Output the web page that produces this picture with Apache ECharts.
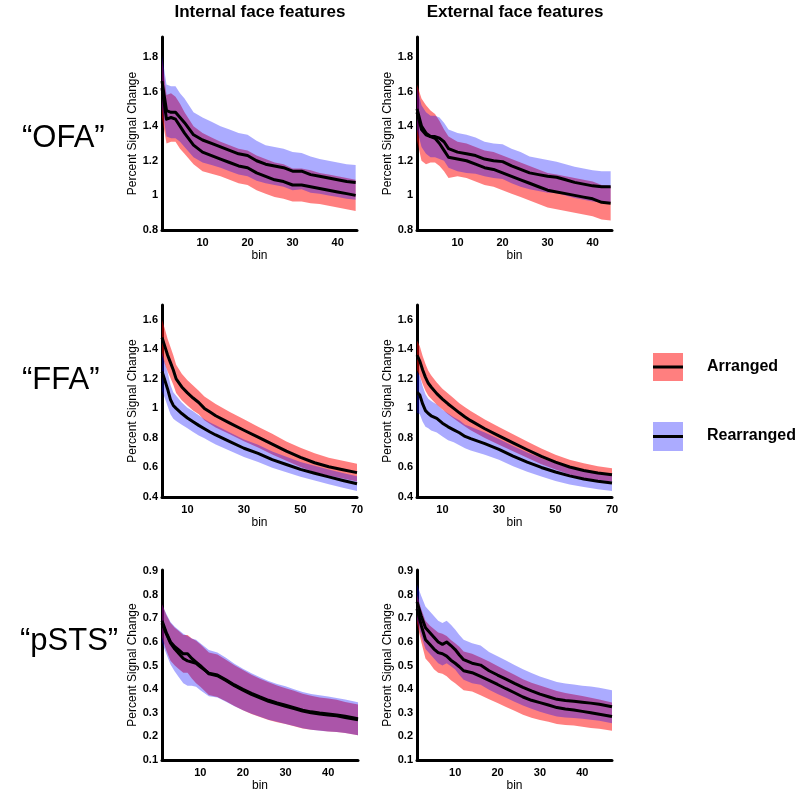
<!DOCTYPE html>
<html>
<head>
<meta charset="utf-8">
<script src="https://cdn.jsdelivr.net/npm/echarts@6/dist/echarts.min.js"></script>
<style>html,body{margin:0;padding:0;background:#fff}#c{width:800px;height:793px}</style>
</head>
<body>
<div id="c"></div>
<script>
// ---------- Data ----------
const columnTitles = ['Internal face features', 'External face features'];
const rowTitles = ['\u201COFA\u201D', '\u201CFFA\u201D', '\u201CpSTS\u201D'];
const legendNames = ['Arranged', 'Rearranged'];
const xName = 'bin';
const yName = 'Percent Signal Change';

// OFA, internal
const binsOfaInt = [1,2,3,4,5,6,8,10,12,14,16,18,20,22,24,26,28,30,32,34,36,38,40,42,44];
const ofaIntArrMean = [1.62,1.44,1.45,1.44,1.40,1.36,1.29,1.25,1.23,1.21,1.19,1.17,1.16,1.13,1.11,1.09,1.08,1.06,1.06,1.05,1.04,1.03,1.02,1.01,1.00];
const ofaIntArrErr  = [0.17,0.14,0.14,0.13,0.13,0.12,0.11,0.11,0.105,0.10,0.10,0.10,0.10,0.10,0.10,0.10,0.10,0.095,0.095,0.095,0.09,0.09,0.09,0.09,0.09];
const ofaIntRearMean = [1.66,1.49,1.48,1.48,1.45,1.42,1.35,1.32,1.30,1.28,1.26,1.24,1.23,1.20,1.18,1.17,1.16,1.14,1.14,1.12,1.11,1.10,1.09,1.08,1.075];
const ofaIntRearErr  = [0.15,0.15,0.15,0.15,0.14,0.14,0.13,0.13,0.125,0.12,0.12,0.12,0.12,0.115,0.11,0.11,0.11,0.11,0.105,0.105,0.10,0.10,0.10,0.10,0.10];

// OFA, external
const binsOfaExt = [1,2,3,4,5,6,7,8,10,12,14,16,18,20,22,24,26,28,30,32,34,36,38,40,42,44];
const ofaExtArrMean = [1.48,1.38,1.35,1.34,1.33,1.30,1.26,1.22,1.21,1.20,1.18,1.16,1.15,1.13,1.11,1.09,1.07,1.05,1.03,1.02,1.01,1.00,0.99,0.98,0.96,0.955];
const ofaExtArrErr  = [0.16,0.18,0.17,0.15,0.14,0.13,0.12,0.12,0.10,0.10,0.10,0.10,0.10,0.10,0.10,0.10,0.10,0.10,0.10,0.10,0.10,0.10,0.10,0.10,0.10,0.10];
const ofaExtRearMean = [1.50,1.40,1.36,1.34,1.34,1.33,1.31,1.27,1.25,1.24,1.23,1.21,1.20,1.195,1.17,1.15,1.13,1.12,1.11,1.105,1.09,1.075,1.065,1.055,1.05,1.05];
const ofaExtRearErr  = [0.12,0.12,0.12,0.12,0.12,0.12,0.11,0.11,0.11,0.11,0.105,0.10,0.10,0.10,0.10,0.10,0.095,0.095,0.095,0.09,0.09,0.09,0.09,0.09,0.09,0.09];

// FFA, internal
const binsFfa = [1,2,3,4,5,6,8,10,12,14,16,18,20,25,30,35,40,45,50,55,60,65,70];
const ffaIntArrMean = [1.48,1.42,1.36,1.31,1.26,1.20,1.145,1.105,1.07,1.04,1.00,0.975,0.95,0.90,0.852,0.805,0.758,0.71,0.668,0.632,0.605,0.585,0.565];
const ffaIntArrErr  = [0.12,0.12,0.11,0.105,0.10,0.095,0.09,0.085,0.085,0.08,0.08,0.08,0.08,0.075,0.075,0.07,0.07,0.065,0.065,0.065,0.06,0.06,0.06];
const ffaIntRearMean = [1.25,1.19,1.13,1.06,1.02,1.00,0.965,0.935,0.91,0.885,0.862,0.84,0.82,0.775,0.73,0.695,0.653,0.62,0.587,0.561,0.536,0.512,0.49];
const ffaIntRearErr  = [0.13,0.12,0.115,0.10,0.09,0.085,0.075,0.07,0.07,0.068,0.065,0.065,0.065,0.062,0.06,0.058,0.055,0.053,0.05,0.05,0.05,0.05,0.05];

// FFA, external
const ffaExtArrMean = [1.36,1.32,1.26,1.21,1.17,1.145,1.10,1.063,1.03,1.00,0.97,0.942,0.917,0.862,0.814,0.767,0.72,0.675,0.636,0.603,0.579,0.562,0.55];
const ffaExtArrErr  = [0.10,0.10,0.095,0.09,0.085,0.08,0.075,0.07,0.07,0.068,0.065,0.065,0.065,0.062,0.06,0.058,0.055,0.053,0.05,0.05,0.05,0.047,0.045];
const ffaExtRearMean = [1.11,1.09,1.03,0.985,0.965,0.95,0.932,0.90,0.875,0.855,0.835,0.81,0.795,0.761,0.723,0.677,0.636,0.60,0.569,0.543,0.522,0.507,0.495];
const ffaExtRearErr  = [0.14,0.13,0.12,0.11,0.10,0.10,0.095,0.09,0.09,0.085,0.085,0.08,0.08,0.075,0.07,0.068,0.065,0.062,0.06,0.058,0.055,0.055,0.055];

// pSTS, internal
const binsPstsInt = [1,2,3,4,5,6,7,8,9,10,12,14,16,18,20,22,24,26,28,30,32,34,36,38,40,42,44,47];
const pstsIntArrMean = [0.69,0.64,0.60,0.58,0.565,0.55,0.55,0.53,0.515,0.50,0.465,0.457,0.437,0.415,0.396,0.378,0.363,0.349,0.338,0.328,0.318,0.307,0.30,0.295,0.291,0.287,0.28,0.27];
const pstsIntArrErr  = [0.07,0.075,0.08,0.08,0.08,0.08,0.08,0.085,0.09,0.09,0.09,0.09,0.088,0.086,0.085,0.083,0.081,0.08,0.078,0.076,0.075,0.074,0.072,0.07,0.07,0.068,0.066,0.065];
const pstsIntRearMean = [0.68,0.635,0.595,0.57,0.55,0.53,0.52,0.515,0.51,0.495,0.468,0.46,0.44,0.418,0.399,0.382,0.367,0.353,0.342,0.332,0.322,0.311,0.304,0.299,0.295,0.291,0.285,0.275];
const pstsIntRearErr  = [0.08,0.085,0.09,0.095,0.10,0.105,0.105,0.10,0.10,0.10,0.098,0.095,0.093,0.09,0.088,0.086,0.084,0.082,0.08,0.08,0.078,0.077,0.076,0.075,0.074,0.072,0.071,0.07];

// pSTS, external
const binsPstsExt = [1,2,3,4,5,6,7,8,9,10,11,12,14,16,18,20,22,24,26,28,30,32,34,36,38,40,42,44,47];
const pstsExtArrMean = [0.74,0.67,0.61,0.59,0.57,0.555,0.55,0.54,0.523,0.51,0.495,0.478,0.47,0.454,0.437,0.42,0.402,0.385,0.367,0.353,0.343,0.333,0.322,0.316,0.312,0.306,0.30,0.294,0.284];
const pstsExtArrErr  = [0.06,0.07,0.08,0.08,0.085,0.085,0.085,0.085,0.085,0.085,0.085,0.082,0.08,0.08,0.08,0.078,0.077,0.076,0.075,0.074,0.073,0.071,0.07,0.068,0.066,0.065,0.064,0.062,0.06];
const pstsExtRearMean = [0.77,0.71,0.66,0.64,0.62,0.60,0.59,0.60,0.585,0.568,0.545,0.525,0.51,0.502,0.478,0.46,0.443,0.425,0.408,0.393,0.379,0.368,0.357,0.352,0.349,0.345,0.341,0.336,0.326];
const pstsExtRearErr  = [0.075,0.085,0.09,0.09,0.09,0.09,0.09,0.09,0.088,0.085,0.085,0.085,0.085,0.083,0.08,0.08,0.079,0.078,0.077,0.076,0.075,0.074,0.073,0.072,0.071,0.07,0.07,0.07,0.07];

// Axis tick labels
const xTicksOfa = [10,20,30,40];
const xTicksFfa = [10,30,50,70];
const xTicksPsts = [10,20,30,40];
const yTicksOfa = [0.8,1,1.2,1.4,1.6,1.8];
const yTicksFfa = [0.4,0.6,0.8,1,1.2,1.4,1.6];
const yTicksPsts = [0.1,0.2,0.3,0.4,0.5,0.6,0.7,0.8,0.9];

// ---------- Chart ----------
const FONT = "'Liberation Sans', Arial, Helvetica, sans-serif";
const RED = 'rgba(255,0,0,0.5)';
const BLUE = 'rgba(0,0,255,0.33)';

const panels = [
  {bins: binsOfaInt, a: [ofaIntArrMean, ofaIntArrErr], r: [ofaIntRearMean, ofaIntRearErr], xMax: 44.3, xTicks: xTicksOfa, yMin: 0.8, yMax: 1.915, yTicks: yTicksOfa, rect: [162, 37, 195, 193]},
  {bins: binsOfaExt, a: [ofaExtArrMean, ofaExtArrErr], r: [ofaExtRearMean, ofaExtRearErr], xMax: 44.3, xTicks: xTicksOfa, yMin: 0.8, yMax: 1.915, yTicks: yTicksOfa, rect: [417, 37, 195, 193]},
  {bins: binsFfa, a: [ffaIntArrMean, ffaIntArrErr], r: [ffaIntRearMean, ffaIntRearErr], xMax: 70, xTicks: xTicksFfa, yMin: 0.4, yMax: 1.7, yTicks: yTicksFfa, rect: [162, 305, 195, 192]},
  {bins: binsFfa, a: [ffaExtArrMean, ffaExtArrErr], r: [ffaExtRearMean, ffaExtRearErr], xMax: 70, xTicks: xTicksFfa, yMin: 0.4, yMax: 1.7, yTicks: yTicksFfa, rect: [417, 305, 195, 192]},
  {bins: binsPstsInt, a: [pstsIntArrMean, pstsIntArrErr], r: [pstsIntRearMean, pstsIntRearErr], xMax: 47, xTicks: xTicksPsts, yMin: 0.1, yMax: 0.905, yTicks: yTicksPsts, rect: [162, 570, 196, 194]},
  {bins: binsPstsExt, a: [pstsExtArrMean, pstsExtArrErr], r: [pstsExtRearMean, pstsExtRearErr], xMax: 47, xTicks: xTicksPsts, yMin: 0.1, yMax: 0.905, yTicks: yTicksPsts, rect: [417, 570, 195, 194]}
];

const grids = [], xAxes = [], yAxes = [], series = [];

// Band (mean ± err) drawn as one polygon through the axis scales (api.coord)
function band(gi, bins, mean, err, color, z) {
  const rows = bins.map((b, i) => [b, mean[i] - err[i], mean[i] + err[i]]);
  return {
    type: 'custom', xAxisIndex: gi, yAxisIndex: gi, silent: true, z: z,
    data: rows, encode: {x: 0, y: [1, 2]},
    renderItem: function (params, api) {
      if (params.dataIndex !== 0) return null;
      const upper = rows.map(r => api.coord([r[0], r[2]]));
      const lower = rows.map(r => api.coord([r[0], r[1]])).reverse();
      return {type: 'polygon', shape: {points: upper.concat(lower)}, style: {fill: color, stroke: null}};
    }
  };
}
function meanLine(gi, bins, mean) {
  return {type: 'line', xAxisIndex: gi, yAxisIndex: gi, symbol: 'none', silent: true, z: 5,
    lineStyle: {color: '#000', width: 3, join: 'round'}, data: bins.map((b, i) => [b, mean[i]])};
}

panels.forEach((p, gi) => {
  grids.push({left: p.rect[0], top: p.rect[1], width: p.rect[2], height: p.rect[3], containLabel: false});
  xAxes.push({
    gridIndex: gi, type: 'value', min: 1, max: p.xMax,
    axisLine: {show: true, onZero: false, lineStyle: {color: '#000', width: 3}},
    axisTick: {show: false}, splitLine: {show: false},
    axisLabel: {customValues: p.xTicks, color: '#000', fontSize: 11, fontWeight: 'bold', fontFamily: FONT, margin: 7},
    name: xName, nameLocation: 'middle', nameGap: 20,
    nameTextStyle: {color: '#000', fontSize: 12, fontFamily: FONT}
  });
  yAxes.push({
    gridIndex: gi, type: 'value', min: p.yMin, max: p.yMax,
    axisLine: {show: true, onZero: false, lineStyle: {color: '#000', width: 3}},
    axisTick: {show: false}, splitLine: {show: false},
    axisLabel: {customValues: p.yTicks, color: '#000', fontSize: 11, fontWeight: 'bold', fontFamily: FONT, margin: 4},
    name: yName, nameLocation: 'middle', nameGap: 19, nameRotate: 90,
    nameTextStyle: {color: '#000', fontSize: 12, fontFamily: FONT}
  });
  series.push(band(gi, p.bins, p.a[0], p.a[1], RED, 1));
  series.push(band(gi, p.bins, p.r[0], p.r[1], BLUE, 2));
  series.push(meanLine(gi, p.bins, p.a[0]));
  series.push(meanLine(gi, p.bins, p.r[0]));
});

const graphic = [
  {type: 'text', x: 260, y: 12, style: {text: columnTitles[0], font: 'bold 17px ' + FONT, fill: '#000', align: 'center', verticalAlign: 'middle'}},
  {type: 'text', x: 515, y: 12, style: {text: columnTitles[1], font: 'bold 17px ' + FONT, fill: '#000', align: 'center', verticalAlign: 'middle'}},
  {type: 'text', x: 22, y: 138, style: {text: rowTitles[0], font: '31px ' + FONT, fill: '#000', align: 'left', verticalAlign: 'middle'}},
  {type: 'text', x: 22, y: 380, style: {text: rowTitles[1], font: '31px ' + FONT, fill: '#000', align: 'left', verticalAlign: 'middle'}},
  {type: 'text', x: 20, y: 641, style: {text: rowTitles[2], font: '31px ' + FONT, fill: '#000', align: 'left', verticalAlign: 'middle'}},
  {type: 'rect', shape: {x: 653, y: 353, width: 30, height: 28}, style: {fill: RED}},
  {type: 'line', shape: {x1: 653, y1: 367, x2: 683, y2: 367}, style: {stroke: '#000', lineWidth: 3}},
  {type: 'text', x: 707, y: 367, style: {text: legendNames[0], font: 'bold 16px ' + FONT, fill: '#000', verticalAlign: 'middle'}},
  {type: 'rect', shape: {x: 653, y: 422, width: 30, height: 29}, style: {fill: BLUE}},
  {type: 'line', shape: {x1: 653, y1: 436.5, x2: 683, y2: 436.5}, style: {stroke: '#000', lineWidth: 3}},
  {type: 'text', x: 707, y: 436, style: {text: legendNames[1], font: 'bold 16px ' + FONT, fill: '#000', verticalAlign: 'middle'}}
];

const chart = echarts.init(document.getElementById('c'), null, {renderer: 'canvas'});
chart.setOption({
  animation: false,
  backgroundColor: '#fff',
  textStyle: {fontFamily: FONT},
  grid: grids, xAxis: xAxes, yAxis: yAxes, series: series, graphic: graphic
});
</script>
</body>
</html>
